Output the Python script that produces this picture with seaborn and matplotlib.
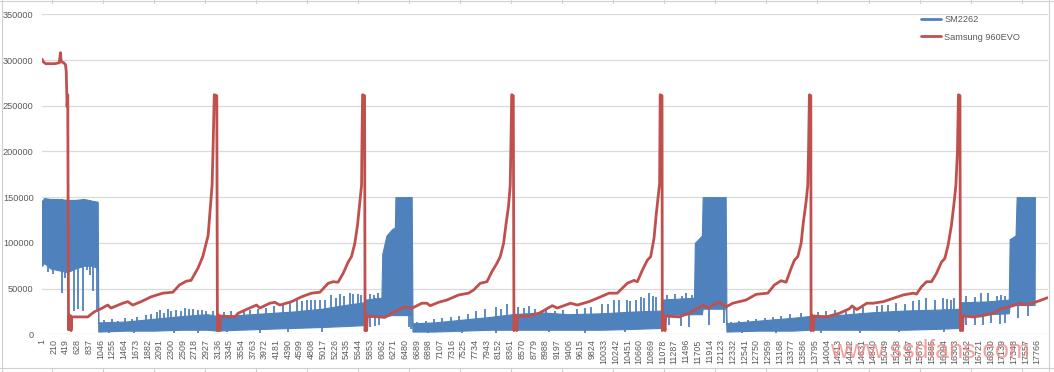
import matplotlib
matplotlib.use("Agg")
import numpy as np
import pandas as pd
import matplotlib.pyplot as plt
import seaborn as sns
from matplotlib.lines import Line2D

# ---- data (values in thousands) ----
# Samsung 960EVO: sample index -> latency
evo_idx = [1, 22, 67, 228, 308, 330, 344, 389, 419, 433, 448, 460, 474, 490, 514, 519, 531,
           817, 937, 1055, 1174, 1233, 1442, 1532, 1621, 1769, 1948, 2157, 2336, 2455, 2573,
           2662, 2782, 2871, 2930, 2966, 3014, 3037, 3053, 3076, 3121, 3132, 3152, 3166, 3175,
           3184, 3443, 3502, 3680, 3830, 3889, 4068, 4157, 4246, 4455, 4634, 4812, 4961, 5109,
           5198, 5287, 5377, 5466, 5526, 5585, 5633, 5675, 5705, 5711, 5723, 5759, 5768, 5784,
           5796, 5807, 6122, 6246, 6366, 6485, 6604, 6782, 6871, 6930, 7081, 7229, 7438, 7616,
           7706, 7824, 7943, 8032, 8121, 8181, 8241, 8282, 8330, 8359, 8373, 8385, 8414, 8426,
           8444, 8476, 8488, 8676, 8872, 9110, 9199, 9438, 9556, 9765, 9974, 10122, 10270,
           10449, 10569, 10628, 10717, 10806, 10867, 10926, 10967, 11003, 11026, 11036, 11069,
           11074, 11087, 11123, 11135, 11373, 11551, 11801, 11896, 12033, 12093, 12212, 12332,
           12569, 12748, 12957, 13075, 13194, 13284, 13373, 13432, 13493, 13552, 13593, 13641,
           13671, 13684, 13700, 13725, 13730, 13748, 13771, 13784, 13998, 14236, 14415, 14463,
           14547, 14725, 14838, 15017, 15195, 15374, 15553, 15612, 15701, 15790, 15880, 15969,
           16058, 16118, 16177, 16236, 16285, 16315, 16343, 16361, 16388, 16395, 16411, 16434,
           16446, 16625, 16804, 16982, 17129, 17320, 17458, 17517, 17660, 17821, 17950]
evo_k = [301, 298, 296, 296, 297, 308, 298, 297, 295, 288, 249, 262, 5, 21, 20, 4, 19,
         19, 24.7, 28, 32, 28.7, 34, 35.7, 32, 35.7, 41, 45, 46, 54, 58,
         59, 72, 85, 99.5, 108, 145, 163, 200, 262, 261, 4, 21, 20, 4,
         20, 19, 23, 28, 32, 28.7, 34, 35, 32, 35.7, 41, 45, 46, 55.8,
         57.5, 57, 66.7, 79, 85, 99.5, 119.5, 145, 163, 201, 262, 261, 4, 21,
         4, 20, 18.5, 23, 26.6, 30, 28.5, 34, 34, 31.3, 35, 37.5, 43, 45,
         48.5, 55.8, 57.5, 68.5, 77.6, 85, 99.5, 119.5, 141, 163, 212, 262, 261, 4,
         21, 4, 20, 19.5, 23, 31.3, 28.7, 34, 32, 35.7, 41, 45, 45,
         55.8, 59, 57.5, 70, 81, 85, 105, 132, 152, 165, 262, 261,
         4, 21, 4, 20, 19, 23, 32, 28.5, 34, 35, 30, 34,
         37.5, 43.7, 45, 54, 58.6, 57, 72, 81, 85, 99.5, 123, 145,
         163, 200, 262, 261, 4, 21, 4, 20, 19, 23, 28, 31,
         27, 34, 34, 35.7, 39.4, 43, 45, 44, 52, 57.5, 57.5, 66.7,
         79, 83, 97.7, 119.5, 145, 163, 200, 262, 261, 4, 21, 4,
         20, 19, 20.5, 23, 28, 31, 34, 32.5, 33.5, 37, 40]

# SM2262: dense noisy trace, kept as its lower / upper envelope
sm_idx = [1, 40, 150, 300, 450, 600, 750, 900, 995, 1005, 1500, 2000, 2500, 2950, 3130,
          3500, 4000, 4500, 5000, 5400, 5750, 5780, 6060, 6075, 6150, 6250, 6300, 6310,
          6600, 6615, 7000, 7500, 8000, 8400, 8900, 9400, 10000, 10600, 11060, 11080,
          11640, 11655, 11780, 11795, 12205, 12220, 12800, 13400, 13700, 14200, 14800,
          15400, 16000, 16380, 16400, 16900, 17260, 17275, 17380, 17400, 17720, 17725]
sm_lo = [75, 78, 72, 70, 68, 72, 75, 75, 72, 3, 4, 4, 5, 5, 4,
         5, 6, 7, 8, 9, 10, 19, 20, 20, 20, 21, 21, 21,
         21, 3, 3, 4, 5, 5, 5, 5, 5, 6, 7, 21,
         22, 22, 22, 28, 28, 3, 4, 4, 5, 5, 5,
         5, 6, 7, 21, 22, 23, 32, 32, 32, 32, 105]
sm_hi = [146, 149, 148, 148, 147, 147, 148, 146, 145, 13, 14, 17, 20, 22, 20,
         21, 23, 25, 28, 32, 35, 38, 40, 88, 108, 115, 117, 150,
         150, 12, 13, 16, 19, 22, 24, 22, 23, 25, 26, 38,
         40, 100, 108, 150, 150, 12, 15, 18, 20, 21, 24,
         26, 27, 28, 35, 36, 38, 104, 108, 150, 150, 150]

# isolated spikes of the SM2262 trace
spike_up_idx = [1100, 1250, 1350, 1480, 1600, 1700, 1850, 1950, 2050, 2100, 2180, 2250, 2300,
                2400, 2480, 2550, 2620, 2700, 2780, 2850, 2920, 3050, 3250, 3380, 3600, 3720,
                3850, 4000, 4150, 4300, 4420, 4545, 4650, 4723, 4800, 4871, 4960, 5050, 5157,
                5250, 5318, 5400, 5497, 5560, 5640, 5700, 5850, 5930, 6000, 6700, 6850, 7000,
                7150, 7300, 7450, 7600, 7750, 7900, 8100, 8200, 8300, 8500, 8600, 8700, 8800,
                9000, 9150, 9300, 9550, 9700, 9800, 10000, 10100, 10212, 10301, 10444, 10500,
                10599, 10688, 10750, 10837, 10900, 10955, 11150, 11300, 11420, 11500, 11600,
                12300, 12450, 12600, 12750, 12900, 13050, 13200, 13350, 13550, 13850, 14000,
                14150, 14350, 14500, 14650, 14900, 15000, 15100, 15250, 15400, 15550, 15650,
                15790, 15940, 16088, 16150, 16236, 16290, 16500, 16650, 16772, 16891, 17050,
                17120, 17200]
spike_up_k = [16, 17, 15, 18, 17, 19, 21, 22, 24, 27, 23, 28, 26,
              27, 25, 29, 28, 28, 27, 27, 26, 25, 24, 25, 26, 27,
              28, 29, 31, 33, 35, 37.5, 36, 38, 38, 37, 38, 37, 43,
              40, 44, 42, 45, 44, 44, 43, 44, 43, 45, 14, 15, 17,
              18, 19, 20, 22, 25, 28, 30, 28, 33, 30, 29, 31, 28,
              27, 26, 27, 28, 29, 30, 33, 33, 37, 37, 37, 36,
              37, 41, 40, 45, 42, 41, 43, 44, 42, 45, 43,
              14, 15, 16, 17, 18, 19, 20, 22, 23, 24, 26,
              27, 28, 30, 30, 31, 32, 32, 34, 33, 36, 38,
              40, 38, 40, 39, 38, 40, 42, 41, 45, 45, 42,
              43, 42]
spike_dn_idx = [100, 200, 353, 420, 470, 580, 651, 728, 800, 850, 906, 983, 1200, 1650, 2350,
                2780, 3300, 3900, 4400, 5000, 5850, 5950, 6020, 6545, 6590, 6900, 7500, 8100,
                9050, 9700, 10400, 11200, 11400, 11550, 11900, 12180, 12500, 13100, 13900,
                14600, 15300, 16100, 16500, 16650, 16800, 16950, 17100, 17200, 17420, 17600]
spike_dn_k = [68, 66, 45, 62, 60, 25, 28, 25, 70, 65, 47, 25, 1, 1.5, 1,
              1.5, 2, 1.5, 2, 3, 8, 9, 10, 8, 6, 1, 1.5, 1,
              2, 1.5, 2, 10, 9, 8, 10, 12, 1, 1.5, 1.5,
              1, 2, 2, 10, 10, 10, 12, 11, 12, 18, 20]

x_ticks = list(range(1, 17767, 209))
y_ticks = [0, 50000, 100000, 150000, 200000, 250000, 300000, 350000]

BLUE = '#4F81BD'
RED = '#C0504D'
GREY_TXT = '#595959'

sns.set_theme(style="white")
plt.rcParams['font.family'] = ['Liberation Sans', 'DejaVu Sans']

evo = pd.DataFrame({'idx': evo_idx, 'val': np.array(evo_k) * 1000})
sm = pd.DataFrame({'idx': sm_idx, 'lo': np.array(sm_lo) * 1000, 'hi': np.array(sm_hi) * 1000})

W, H = 1054, 372
fig = plt.figure(figsize=(W / 100, H / 100), dpi=100)
ax = fig.add_axes([42.0 / W, 37.7 / H, 1005.5 / W, 320.0 / H])

# SM2262 band + spikes
ax.fill_between(sm['idx'], sm['lo'], sm['hi'], color=BLUE, lw=0.8, edgecolor=BLUE, zorder=2)
up_base = np.interp(spike_up_idx, sm['idx'], sm['lo'])
ax.vlines(spike_up_idx, up_base, np.array(spike_up_k) * 1000, color=BLUE, lw=1.3, zorder=2)
dn_top = np.interp(spike_dn_idx, sm['idx'], sm['hi'])
ax.vlines(spike_dn_idx, np.array(spike_dn_k) * 1000, dn_top, color=BLUE, lw=1.3, zorder=2)

# Samsung 960EVO line
sns.lineplot(data=evo, x='idx', y='val', color=RED, lw=2.0, ax=ax, zorder=3,
             estimator=None, sort=False, legend=False)
for ln in ax.lines:
    ln.set_solid_joinstyle('round')

ax.set_xlim(0.5, 17950.5)
ax.set_ylim(0, 350000)
ax.set_xticks(x_ticks)
ax.set_xticklabels([str(t) for t in x_ticks])
ax.set_yticks(y_ticks)
ax.set_yticklabels([str(t) for t in y_ticks])
ax.set_xlabel('')
ax.set_ylabel('')
ax.tick_params(axis='x', labelrotation=90, labelsize=6.4, colors=GREY_TXT, length=0, pad=3.5)
ax.tick_params(axis='y', labelsize=6.6, colors=GREY_TXT, length=0, pad=6)
ax.yaxis.grid(True, color='#D9D9D9', lw=0.9)
ax.xaxis.grid(False)
ax.set_axisbelow(True)
for s in ax.spines.values():
    s.set_visible(False)

handles = [Line2D([0], [0], color=BLUE, lw=2), Line2D([0], [0], color=RED, lw=2)]
leg = fig.legend(handles, ['SM2262', 'Samsung 960EVO'], loc='upper left',
                 bbox_to_anchor=(921.0 / W, 1 - 15.0 / H), frameon=False, fontsize=6.6,
                 handlelength=2.2, handletextpad=0.35, labelspacing=0.95, borderpad=0,
                 borderaxespad=0)
for t in leg.get_texts():
    t.set_color(GREY_TXT)

# watermark (sits over the tick labels, as in the source image)
fig.text(830 / W, 1 - 351 / H, 'www.ssdfans.com', fontsize=18, color='#F08A8A',
         alpha=0.8, ha='left', va='center')

# outer chart-area frame and sheet cell marks
fc = '#D0D0D0'
fig.add_artist(Line2D([2 / W, 2 / W], [0, 1], color=fc, lw=0.8, transform=fig.transFigure))
fig.add_artist(Line2D([1049 / W, 1049 / W], [0, 1], color=fc, lw=0.8, transform=fig.transFigure))
fig.add_artist(Line2D([0, 1], [1 - 0.5 / H, 1 - 0.5 / H], color=fc, lw=0.8, transform=fig.transFigure))
fig.add_artist(Line2D([0, 1], [1 - 367.5 / H, 1 - 367.5 / H], color=fc, lw=0.8, transform=fig.transFigure))
for k in range(20):
    xc = (51.7 + 51.05 * k) / W
    fig.add_artist(Line2D([xc, xc], [1, 1 - 3 / H], color=fc, lw=0.8, transform=fig.transFigure))
    fig.add_artist(Line2D([xc, xc], [0, 1 - 367.5 / H], color=fc, lw=0.8, transform=fig.transFigure))

fig.savefig('out.png', dpi=100)
